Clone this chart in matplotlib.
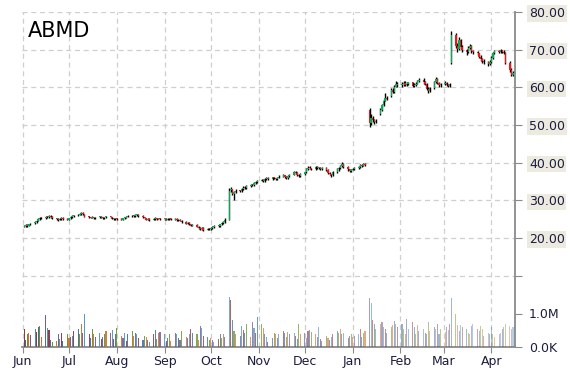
import numpy as np
import pandas as pd
import matplotlib
matplotlib.use("Agg")
import matplotlib.pyplot as plt
import matplotlib.dates as mdates

ticker = "ABMD"
start_date = "2014-06-02"

opens = [
    23.0, 23.2, 23.5, 23.2, 23.6, 23.9, 24.3, 24.6, 25.1, 25.5, 25.3, 25.7, 25.5, 25.8, 25.6, 25.2, 25.0, 24.8, 25.1, 25.3, 25.1,
    24.9, 25.2, 25.6, 25.9, 26.0, 26.2, 26.4, 26.6, 26.2, 25.7, 25.5, 25.4, 25.6, 25.3, 25.5, 25.7, 25.4, 25.2, 25.5, 25.7, 25.5, 25.2, 25.0,
    25.2, 25.1, 24.9, 25.2, 25.4, 25.7, 25.9, 26.0, 25.8, 26.1, 26.2, 25.9, 25.6, 25.2, 24.9, 25.0, 24.8, 25.1, 25.3, 25.1, 25.2,
    25.0, 25.1, 24.9, 25.0, 25.2, 24.9, 25.0, 24.8, 24.9, 24.6, 24.2, 23.8, 24.0, 23.6, 23.3, 23.5, 23.0, 22.7, 22.4, 22.6, 22.2, 22.5,
    22.3, 22.6, 22.9, 23.3, 23.1, 23.6, 24.0, 24.3, 24.9, 32.8, 32.9, 31.8, 32.3, 32.6, 32.4, 33.0, 33.4, 33.3, 33.8, 34.1, 34.0, 34.5, 34.9,
    35.2, 35.4, 35.1, 35.6, 35.9, 35.7, 36.1, 35.8, 35.6, 36.0, 36.3, 36.6, 36.2, 35.9, 36.4, 36.8, 37.5, 37.2, 36.7, 36.4,
    36.9, 37.4, 38.2, 38.7, 38.5, 38.3, 38.8, 38.5, 38.6, 38.2, 38.6, 38.0, 37.3, 36.9, 36.6, 37.4, 38.2, 38.6, 39.1, 39.7, 38.8, 38.2, 37.8,
    38.1, 38.3, 38.6, 38.9, 39.4, 39.2, 39.7, 54.0, 50.4, 51.8, 51.2, 50.8, 52.9, 54.0, 55.2, 56.5, 57.2, 57.6, 59.4, 58.8, 60.2, 60.9,
    60.5, 60.8, 61.2, 60.6, 60.9, 61.3, 60.4, 60.7, 61.0, 61.6, 62.0, 61.3, 60.8, 59.6, 59.0, 59.8, 61.4, 62.1, 61.2, 60.5,
    60.8, 61.2, 60.6, 60.4, 66.5, 73.8, 71.0, 70.2, 72.6, 70.8, 69.9, 69.3, 70.5, 71.0, 69.6, 69.3, 69.0, 68.1, 67.5, 67.1, 66.7, 66.2,
    66.7, 67.9, 69.2, 69.6, 69.3, 69.8, 69.5, 69.0, 66.4, 64.6, 63.4, 63.8,
]
highs = [
    23.5, 23.7, 23.6, 23.8, 24.1, 24.5, 24.8, 25.3, 25.6, 25.7, 25.9, 25.9, 26.0, 26.0, 25.8, 25.4, 25.2, 25.3, 25.5, 25.5, 25.3,
    25.4, 25.8, 26.1, 26.2, 26.4, 26.6, 26.9, 26.8, 26.3, 25.9, 25.7, 25.8, 25.7, 25.7, 25.9, 25.9, 25.6, 25.7, 25.9, 25.9, 25.7, 25.4, 25.4,
    25.4, 25.3, 25.4, 25.6, 25.9, 26.1, 26.2, 26.2, 26.3, 26.4, 26.3, 26.0, 25.7, 25.4, 25.2, 25.2, 25.3, 25.5, 25.4, 25.4, 25.4,
    25.3, 25.3, 25.2, 25.4, 25.3, 25.2, 25.2, 25.1, 25.1, 24.8, 24.4, 24.2, 24.2, 23.8, 23.7, 23.7, 23.2, 22.9, 22.8, 22.8, 22.7, 22.7,
    22.8, 23.1, 23.5, 23.5, 23.8, 24.2, 24.5, 25.2, 33.2, 33.6, 33.1, 32.6, 32.9, 32.8, 33.3, 33.7, 33.7, 34.1, 34.4, 34.4, 34.8, 35.2, 35.5,
    35.7, 35.6, 35.8, 36.2, 36.1, 36.3, 36.2, 36.0, 36.3, 36.6, 36.9, 36.8, 36.4, 36.6, 37.0, 37.9, 37.8, 37.4, 36.9, 37.2,
    37.6, 38.5, 39.0, 39.0, 38.7, 39.1, 39.0, 38.9, 38.8, 38.9, 38.8, 38.2, 37.5, 37.1, 37.7, 38.5, 38.9, 39.4, 40.3, 39.9, 39.0, 38.4, 38.4,
    38.5, 38.8, 39.1, 39.7, 39.6, 40.0, 39.9, 54.5, 52.8, 52.3, 51.7, 51.6, 54.4, 55.6, 57.0, 58.4, 57.7, 59.8, 59.7, 60.7, 61.7, 61.5,
    61.4, 61.6, 61.6, 61.3, 61.5, 61.5, 61.1, 61.4, 62.0, 62.6, 62.4, 61.6, 61.1, 60.0, 60.2, 61.8, 62.7, 62.4, 61.5, 61.2,
    61.6, 61.5, 61.0, 61.2, 75.0, 74.3, 71.8, 73.3, 72.9, 71.2, 70.2, 70.9, 71.6, 71.2, 69.9, 69.6, 69.2, 68.5, 67.9, 67.4, 67.0, 67.2,
    68.2, 69.5, 70.0, 70.0, 70.1, 70.0, 69.8, 69.4, 66.9, 65.1, 64.3, 65.0,
]
lows = [
    22.8, 23.0, 22.9, 23.1, 23.4, 23.8, 24.1, 24.4, 24.9, 25.1, 25.1, 25.3, 25.3, 25.4, 25.0, 24.8, 24.6, 24.7, 24.9, 24.9, 24.7,
    24.8, 25.0, 25.4, 25.7, 25.8, 26.0, 26.2, 26.1, 25.5, 25.3, 25.2, 25.2, 25.1, 25.1, 25.3, 25.2, 25.0, 25.0, 25.3, 25.3, 25.0, 24.8, 24.8,
    24.9, 24.7, 24.7, 25.0, 25.2, 25.5, 25.7, 25.6, 25.6, 25.9, 25.7, 25.4, 25.0, 24.7, 24.7, 24.6, 24.7, 24.9, 24.9, 25.0, 24.8,
    24.8, 24.7, 24.7, 24.8, 24.7, 24.7, 24.6, 24.6, 24.4, 24.0, 23.6, 23.6, 23.4, 23.1, 23.1, 22.8, 22.4, 22.1, 22.1, 21.9, 22.0, 22.0,
    22.0, 22.3, 22.7, 22.9, 22.9, 23.4, 23.8, 24.1, 24.8, 32.3, 31.3, 30.2, 32.0, 32.1, 32.2, 32.7, 33.0, 33.0, 33.5, 33.7, 33.8, 34.3, 34.7,
    35.0, 34.8, 34.9, 35.4, 35.4, 35.5, 35.6, 35.3, 35.4, 35.8, 36.1, 35.9, 35.6, 35.7, 36.2, 36.6, 36.9, 36.4, 36.1, 36.2,
    36.7, 37.2, 38.0, 38.2, 38.0, 38.1, 38.3, 38.3, 38.0, 38.0, 37.8, 37.1, 36.6, 36.3, 36.4, 37.2, 37.9, 38.4, 38.9, 38.5, 37.9, 37.5, 37.6,
    38.0, 38.1, 38.4, 38.7, 38.9, 39.0, 39.0, 49.5, 50.0, 50.7, 50.3, 50.4, 52.6, 53.8, 55.0, 56.3, 56.6, 57.4, 58.5, 58.6, 60.0, 60.2,
    60.1, 60.4, 60.3, 60.3, 60.6, 60.1, 60.2, 60.4, 60.8, 61.3, 61.0, 60.5, 59.3, 58.5, 58.8, 59.6, 61.1, 61.0, 60.2, 60.2,
    60.5, 60.3, 60.1, 60.2, 66.3, 70.4, 69.3, 69.9, 70.2, 69.5, 68.7, 69.0, 70.1, 69.2, 68.8, 68.5, 67.7, 67.1, 66.5, 66.2, 65.7, 65.9,
    66.5, 67.6, 68.9, 69.0, 69.1, 69.2, 68.8, 66.1, 64.2, 62.9, 63.1, 63.5,
]
closes = [
    23.2, 23.4, 23.1, 23.6, 23.9, 24.3, 24.6, 25.1, 25.4, 25.3, 25.7, 25.5, 25.8, 25.6, 25.2, 25.0, 24.8, 25.1, 25.3, 25.1, 24.9,
    25.2, 25.6, 25.9, 26.0, 26.2, 26.4, 26.6, 26.3, 25.7, 25.5, 25.4, 25.6, 25.3, 25.5, 25.7, 25.4, 25.2, 25.5, 25.7, 25.5, 25.2, 25.0, 25.2,
    25.1, 24.9, 25.2, 25.4, 25.7, 25.9, 26.0, 25.8, 26.1, 26.2, 25.9, 25.6, 25.2, 24.9, 25.0, 24.8, 25.1, 25.3, 25.1, 25.2, 25.0,
    25.1, 24.9, 25.0, 25.2, 24.9, 25.0, 24.8, 24.9, 24.6, 24.2, 23.8, 24.0, 23.6, 23.3, 23.5, 23.0, 22.7, 22.4, 22.6, 22.2, 22.5, 22.3,
    22.6, 22.9, 23.3, 23.1, 23.6, 24.0, 24.3, 24.7, 32.6, 32.9, 31.8, 32.3, 32.6, 32.4, 33.0, 33.4, 33.3, 33.8, 34.1, 34.0, 34.5, 34.9, 35.2,
    35.4, 35.1, 35.6, 35.9, 35.7, 36.1, 35.8, 35.6, 36.0, 36.3, 36.6, 36.2, 35.9, 36.4, 36.8, 37.5, 37.2, 36.7, 36.4, 36.9,
    37.4, 38.2, 38.7, 38.5, 38.3, 38.8, 38.5, 38.6, 38.2, 38.6, 38.0, 37.3, 36.9, 36.6, 37.4, 38.2, 38.6, 39.1, 39.7, 38.8, 38.2, 37.8, 38.1,
    38.3, 38.6, 38.9, 39.4, 39.2, 39.7, 39.3, 50.4, 51.8, 51.2, 50.8, 51.1, 54.0, 55.2, 56.5, 57.2, 57.0, 59.4, 58.8, 60.2, 60.9, 60.5,
    60.8, 61.2, 60.6, 60.9, 61.3, 60.4, 60.7, 61.0, 61.6, 62.0, 61.3, 60.8, 59.6, 59.0, 59.8, 61.4, 62.1, 61.2, 60.5, 60.8,
    61.2, 60.6, 60.4, 60.9, 73.8, 71.0, 70.2, 72.6, 70.8, 69.9, 69.3, 70.5, 71.0, 69.6, 69.3, 69.0, 68.1, 67.5, 67.1, 66.7, 66.2, 66.7,
    67.9, 69.2, 69.6, 69.3, 69.8, 69.5, 69.0, 66.4, 64.6, 63.4, 63.8, 64.4,
]
volumes_m = [
    0.55, 0.20, 0.38, 0.42, 0.35, 0.55, 0.45, 0.60, 0.62, 0.30, 0.95, 0.58, 0.52, 0.20, 0.15, 0.18, 0.38, 0.25, 0.42, 0.18, 0.38,
    0.28, 0.30, 0.32, 0.48, 0.55, 0.40, 0.68, 0.42, 1.00, 0.38, 0.28, 0.55, 0.40, 0.30, 0.42, 0.25, 0.30, 0.38, 0.48, 0.42, 0.50, 0.25, 0.38,
    0.58, 0.32, 0.28, 0.42, 0.18, 0.40, 0.48, 0.32, 0.42, 0.38, 0.28, 0.20, 0.32, 0.30, 0.20, 0.15, 0.40, 0.52, 0.25, 0.42, 0.45,
    0.40, 0.18, 0.28, 0.38, 0.18, 0.42, 0.38, 0.28, 0.20, 0.48, 0.30, 0.28, 0.38, 0.55, 0.42, 0.40, 0.20, 0.62, 0.58, 0.32, 0.30, 0.20,
    0.28, 0.20, 0.15, 0.25, 0.38, 0.28, 0.40, 0.30, 1.50, 1.40, 0.80, 0.48, 0.38, 0.32, 0.62, 0.50, 0.42, 0.68, 0.30, 0.75, 0.58, 0.42, 0.90,
    0.70, 0.58, 0.38, 0.30, 0.15, 0.28, 0.42, 0.38, 0.28, 0.40, 0.48, 0.42, 0.30, 0.45, 0.38, 0.42, 0.32, 0.25, 0.70, 0.40,
    0.42, 0.28, 0.48, 0.50, 0.45, 0.38, 0.30, 0.60, 0.25, 0.18, 0.32, 0.28, 0.20, 0.30, 0.40, 0.48, 0.42, 0.55, 0.38, 0.42, 0.28, 0.32, 0.40,
    0.30, 0.32, 0.38, 0.55, 0.30, 0.42, 0.48, 1.45, 1.30, 0.80, 0.70, 0.55, 0.70, 0.75, 0.60, 0.55, 0.42, 0.60, 0.65, 0.78, 0.70, 0.60,
    0.70, 0.55, 0.38, 0.85, 0.55, 0.75, 0.60, 0.38, 0.65, 0.48, 0.55, 0.42, 0.38, 0.75, 0.48, 0.60, 0.55, 0.70, 0.38, 0.55,
    0.45, 0.60, 0.52, 0.70, 1.45, 1.00, 0.65, 0.48, 0.65, 0.60, 0.55, 0.42, 0.38, 0.62, 0.70, 0.55, 0.48, 0.62, 0.55, 0.32, 0.42, 0.38,
    0.60, 0.40, 0.30, 0.38, 0.42, 0.55, 0.60, 0.70, 0.62, 0.55, 0.60, 0.65,
]
price_ticks = [10, 20, 30, 40, 50, 60, 70, 80]
price_tick_labels = ["", "20.00", "30.00", "40.00", "50.00", "60.00", "70.00", "80.00"]
volume_ticks = [0, 1.0e6]
volume_tick_labels = ["0.0K", "1.0M"]

n = len(closes)
assert len(opens) == n and len(highs) == n and len(lows) == n and len(volumes_m) == n
dates = pd.bdate_range(start_date, periods=n)
x = mdates.date2num(dates.to_pydatetime())
o = np.array(opens); h = np.array(highs); l = np.array(lows); c = np.array(closes)
vol = np.array(volumes_m) * 1e6

fig = plt.figure(figsize=(5.7, 3.7), dpi=100)
ax = fig.add_axes([22 / 570, 1 - 347 / 370, 493 / 570, 335 / 370])
ax2 = ax.twinx()

x0 = mdates.date2num(pd.Timestamp("2014-05-31 12:00").to_pydatetime())
ax.set_xlim(x0, x0 + 319.8)
ax.set_ylim(80 - 335 / (226 / 60), 80)
ax2.set_ylim(0, 335 / 33.5 * 1e6)

grid_kw = dict(color="#cfcfcf", linestyle=(0, (4, 3)), linewidth=0.9)
ax.grid(True, axis="both", **grid_kw)
ax.set_axisbelow(True)

# volume bars
vol_colors = ["#8B3A46", "#3C6A9E", "#6B8E23", "#C8702F", "#6B5B95", "#4A90B8"]
alphas = np.linspace(1.0, 0.4, n)
for i in range(n):
    ax2.bar(x[i], vol[i], width=0.7, color=vol_colors[i % len(vol_colors)],
            alpha=alphas[i], linewidth=0, antialiased=False)

# candles
ax.vlines(x, l, h, color="black", linewidth=1.0, zorder=3)
up = c >= o
body_bottom = np.minimum(o, c)
body_h = np.maximum(np.abs(c - o), 0.25)
ax.bar(x[up], body_h[up], bottom=body_bottom[up], width=0.9, color="#00b050",
       linewidth=0, zorder=4)
ax.bar(x[~up], body_h[~up], bottom=body_bottom[~up], width=0.9, color="#ff1010",
       linewidth=0, zorder=4)

# axes styling
for a in (ax, ax2):
    for s in ("left", "top"):
        a.spines[s].set_visible(False)
ax.spines["right"].set_visible(False)
ax.spines["bottom"].set_color("#8a8a8a")
ax.spines["bottom"].set_linewidth(1.3)
ax2.spines["bottom"].set_visible(False)
ax2.spines["right"].set_color("#8a8a8a")
ax2.spines["right"].set_linewidth(1.3)

label_color = "#1c1c40"
ax.yaxis.tick_right()
ax.set_yticks(price_ticks)
ax.set_yticklabels(price_tick_labels)
ax.tick_params(axis="y", which="both", right=True, left=False, length=5, color="#8a8a8a",
               labelsize=9, labelcolor=label_color, pad=5)
for t in ax.get_yticklabels():
    if t.get_text():
        t.set_bbox(dict(facecolor="#EDEAE0", edgecolor="none", pad=1.2))

ax2.set_yticks(volume_ticks)
ax2.set_yticklabels(volume_tick_labels)
ax2.tick_params(axis="y", length=5, color="#8a8a8a", labelsize=9, labelcolor=label_color, pad=5)

ax.xaxis.set_major_locator(mdates.MonthLocator())
ax.xaxis.set_major_formatter(mdates.DateFormatter("%b"))
ax.tick_params(axis="x", length=4, color="#8a8a8a", labelsize=9, labelcolor=label_color, pad=2)

ax.text(0.012, 0.925, ticker, transform=ax.transAxes, fontsize=15, color="black",
        va="baseline", ha="left", zorder=6)

fig.savefig("out.png", dpi=100)
